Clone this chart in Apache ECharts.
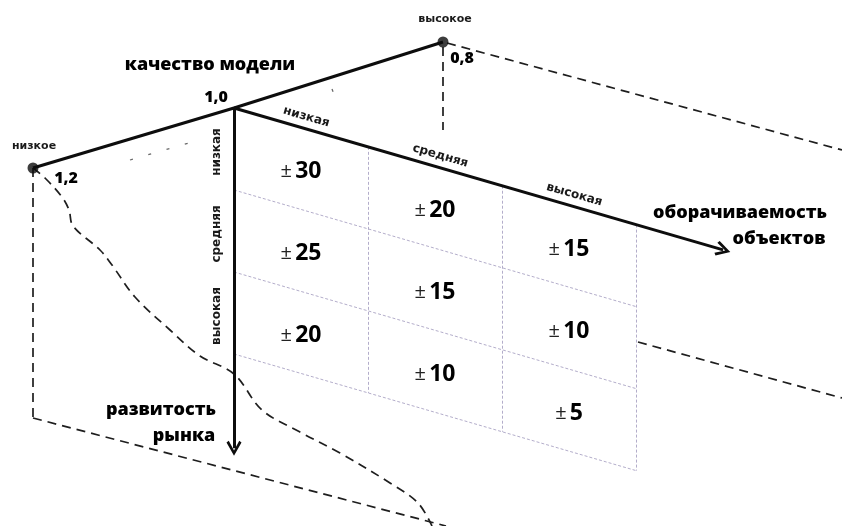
<!DOCTYPE html>
<html><head><meta charset="utf-8">
<script src="https://cdn.jsdelivr.net/npm/echarts@6/dist/echarts.min.js"></script>
<style>html,body{margin:0;padding:0;background:#fff}#c{width:842px;height:526px}</style>
</head><body><div id="c"></div>
<script>
// ---- data ----
const turnoverLevels = ['низкая', 'средняя', 'высокая'];
const marketLevels = ['низкая', 'средняя', 'высокая'];
const qualityLevels = ['низкое', 'высокое'];
const qualityValues = ['1,2', '1,0', '0,8'];
const rowLowMarket = [30, 20, 15];
const rowMidMarket = [25, 15, 10];
const rowHighMarket = [20, 10, 5];
const axisTitleQuality = 'качество модели';
const axisTitleTurnover = ['оборачиваемость', 'объектов'];
const axisTitleMarket = ['развитость', 'рынка'];
// decorative contour (dashed curve)
const contourPath = [[33,168],[45,178],[62,197],[69,210],[73,226],[100,250],[112,265],[135,297],[170,330],[200,356],[234,374],[262,410],[300,432],[340,453],[390,483],[418,503],[432,526]];

// ---- geometry ----
const O = [234, 108], COLW = 134, ROWH = 82, SKEW = 0.29;
const qualityLow = [33, 168], qualityHigh = [443, 42];
function P(c, r) { return [O[0] + COLW * c, O[1] + SKEW * COLW * c + ROWH * r]; }

const rows = [rowLowMarket, rowMidMarket, rowHighMarket];
const gridLines = [];
for (let c = 1; c <= 3; c++) gridLines.push({ coords: [P(c, 0), P(c, 3)] });
for (let r = 1; r <= 3; r++) gridLines.push({ coords: [P(0, r), P(3, r)] });

const chevron = 'path://M10,0 L20,15 L17,17 L10,6 L3,17 L0,15 Z';
const ang = -Math.atan(SKEW) * 180 / Math.PI;

const FONT = 'Open Sans';
const SMALL = { fontSize: 12, fontWeight: 'bold', fontFamily: 'DejaVu Sans', color: '#1a1a1a' };
const texts = [];
function addText(pos, text, opt) {
  texts.push({ value: pos, label: Object.assign({ show: true, formatter: text, position: 'inside', fontFamily: FONT, color: '#000', opacity: 1 }, opt) });
}
// cells
rows.forEach((row, r) => row.forEach((v, c) => {
  const p = P(c + 0.5, r + 0.5);
  addText([p[0], p[1] + 3], '{pm|±} {n|' + v + '}', {
    rich: { pm: { fontSize: 20, fontFamily: FONT, color: '#222', fontWeight: 'normal' },
            n: { fontSize: 23, fontFamily: FONT, color: '#000', fontWeight: 700 } }
  });
}));
// turnover level labels
turnoverLevels.forEach((t, c) => {
  const p = P(c + 0.54, 0);
  addText([p[0], p[1] - 12], t, Object.assign({ rotate: ang }, SMALL));
});
// market level labels
marketLevels.forEach((t, r) => {
  const p = P(0, r + 0.5);
  addText([p[0] - 17, p[1] + 3], t, Object.assign({ rotate: 90 }, SMALL));
});
// quality labels
addText([qualityLow[0] + 1, qualityLow[1] - 22], qualityLevels[0], Object.assign({}, SMALL, { fontSize: 11 }));
addText([qualityHigh[0] + 2, qualityHigh[1] - 23], qualityLevels[1], Object.assign({}, SMALL, { fontSize: 11 }));
const BIG = { fontWeight: 800, color: '#000' };
addText([qualityLow[0] + 33, qualityLow[1] + 10], qualityValues[0], Object.assign({ fontSize: 16 }, BIG));
addText([O[0] - 18, O[1] - 11], qualityValues[1], Object.assign({ fontSize: 16 }, BIG));
addText([qualityHigh[0] + 19, qualityHigh[1] + 16], qualityValues[2], Object.assign({ fontSize: 16 }, BIG));
addText([210, 65], axisTitleQuality, Object.assign({ fontSize: 18 }, BIG));
addText([740, 213], axisTitleTurnover[0], Object.assign({ fontSize: 18 }, BIG));
addText([779, 239], axisTitleTurnover[1], Object.assign({ fontSize: 18 }, BIG));
addText([161, 410], axisTitleMarket[0], Object.assign({ fontSize: 18 }, BIG));
addText([184, 436], axisTitleMarket[1], Object.assign({ fontSize: 18 }, BIG));

const dashStyle = { color: '#1e1e1e', width: 1.7, type: [9, 6], opacity: 1 };

const option = {
  animation: false,
  backgroundColor: '#ffffff',
  grid: { left: 0, right: 0, top: 0, bottom: 0 },
  xAxis: { type: 'value', min: 0, max: 842, show: false },
  yAxis: { type: 'value', min: 0, max: 526, inverse: true, show: false },
  series: [
    { type: 'lines', coordinateSystem: 'cartesian2d', silent: true, z: 1,
      lineStyle: { color: '#aaa4c4', width: 0.9, type: [3, 2], opacity: 1 },
      data: gridLines },
    { type: 'lines', coordinateSystem: 'cartesian2d', silent: true, z: 2, lineStyle: dashStyle,
      data: [
        { coords: [qualityLow, [33, 418]] },
        { coords: [[33, 418], [446, 526]] },
        { coords: [[qualityHigh[0], 47], [qualityHigh[0], 130]] },
        { coords: [[qualityHigh[0] + 4, 43], [842, 150]] },
        { coords: [[638, 342], [842, 398]] }
      ] },
    { type: 'lines', coordinateSystem: 'cartesian2d', silent: true, z: 2,
      lineStyle: { color: '#444', width: 1.3, type: [3, 16], opacity: 0.8 },
      data: [{ coords: [[130, 160], [196, 141]] }, { coords: [[332, 89], [335, 97]] }] },
    { type: 'line', smooth: 0.35, symbol: 'none', silent: true, z: 2,
      lineStyle: dashStyle, data: contourPath },
    { type: 'lines', coordinateSystem: 'cartesian2d', silent: true, z: 3, polyline: true,
      lineStyle: { color: '#0d0d0d', width: 3, opacity: 1 },
      data: [{ coords: [qualityLow, O, qualityHigh] }] },
    { type: 'lines', coordinateSystem: 'cartesian2d', silent: true, z: 3,
      symbol: ['none', chevron], symbolSize: [15, 15],
      lineStyle: { color: '#0d0d0d', width: 3, opacity: 1 },
      data: [{ coords: [O, P(3.65, 0)] }, { coords: [O, P(0, 4.15)] }] },
    { type: 'scatter', silent: true, z: 4, symbolSize: 11, itemStyle: { color: '#0d0d0d' },
      data: [qualityLow, qualityHigh] },
    { type: 'scatter', silent: true, z: 5, symbolSize: 1, itemStyle: { color: 'rgba(0,0,0,0)' },
      data: texts }
  ]
};
echarts.init(document.getElementById('c')).setOption(option);
</script></body></html>
